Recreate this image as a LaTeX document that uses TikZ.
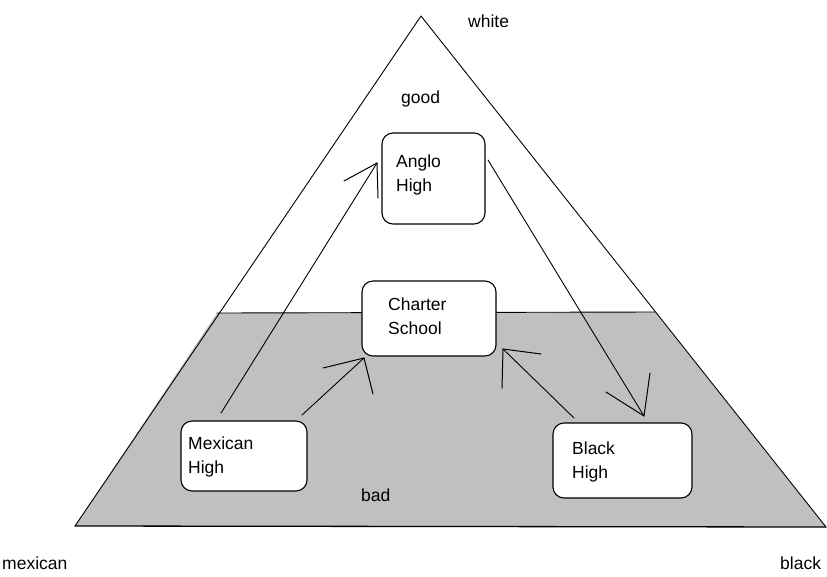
\documentclass[tikz,border=0pt]{standalone}
\usepackage{fontspec}
\setmainfont{Liberation Sans}
\definecolor{lowgray}{RGB}{192,192,192}
\begin{document}
\begin{tikzpicture}[x=1pt,y=-1pt, line join=round, line cap=round,
  box/.style={draw, fill=white, rounded corners=11pt, line width=1.1pt, inner sep=0pt},
  lbl/.style={anchor=base west, inner sep=0pt, font=\fontsize{17.5}{20}\selectfont},
  stroke/.style={line width=0.9pt},
  headstroke/.style={line width=1.0pt}]
\useasboundingbox (0,0) rectangle (827,576);
% triangle and shaded lower part
\coordinate (apex) at (421,16);
\coordinate (bl) at (75,526);
\coordinate (br) at (826,527);
\coordinate (gl) at (217,313);
\coordinate (gr) at (655,312);
\fill[lowgray] (gl) -- (gr) -- (br) -- (bl) -- cycle;
\draw[stroke] (bl) -- (apex) -- (br);
\draw[line width=1.3pt] (bl) -- (br);
\draw[stroke] (gl) -- (gr);
% boxes
\node[box, minimum width=103pt, minimum height=91pt] (anglo) at (433.5,178.5) {};
\node[box, minimum width=134pt, minimum height=75pt] (charter) at (429,318.5) {};
\node[box, minimum width=126pt, minimum height=70pt] (mex) at (244,456) {};
\node[box, minimum width=139pt, minimum height=75pt] (blk) at (622.5,460.5) {};
% box texts
\node[lbl] (t1) at (396,167) {Anglo};
\node[lbl] (t2) at (396,191) {High};
\node[lbl] (t3) at (388,310) {Charter};
\node[lbl] (t4) at (388,334) {School};
\node[lbl] (t5) at (188,449) {Mexican};
\node[lbl] (t6) at (188,473) {High};
\node[lbl] (t7) at (572,454) {Black};
\node[lbl] (t8) at (572,478) {High};
% free labels
\node[lbl] (white) at (468,27) {white};
\node[lbl] (good) at (401,103) {good};
\node[lbl] (bad) at (361,501) {bad};
\node[lbl] (mexican) at (2,569) {mexican};
\node[lbl] (black) at (780,569) {black};
% arrow 1: Mexican High -> Anglo High
\coordinate (a1s) at (221,413); \coordinate (a1t) at (377,163);
\coordinate (a1h1) at (344,181); \coordinate (a1h2) at (378,198);
\draw[stroke] (a1s) -- (a1t);
\draw[headstroke] (a1h1) -- (a1t) -- (a1h2);
% arrow 2: Mexican High -> Charter School
\coordinate (a2s) at (302,415); \coordinate (a2t) at (364,358);
\coordinate (a2h1) at (323,368); \coordinate (a2h2) at (373,394);
\draw[stroke] (a2s) -- (a2t);
\draw[headstroke] (a2h1) -- (a2t) -- (a2h2);
% arrow 3: Black High -> Charter School
\coordinate (a3s) at (574,418); \coordinate (a3t) at (503,349);
\coordinate (a3h1) at (541,354); \coordinate (a3h2) at (502,388);
\draw[stroke] (a3s) -- (a3t);
\draw[headstroke] (a3h1) -- (a3t) -- (a3h2);
% arrow 4: Anglo High -> Black High
\coordinate (a4s) at (488,160); \coordinate (a4t) at (644,416);
\coordinate (a4h1) at (606,392); \coordinate (a4h2) at (650,373);
\draw[stroke] (a4s) -- (a4t);
\draw[headstroke] (a4h1) -- (a4t) -- (a4h2);
\end{tikzpicture}
\end{document}
